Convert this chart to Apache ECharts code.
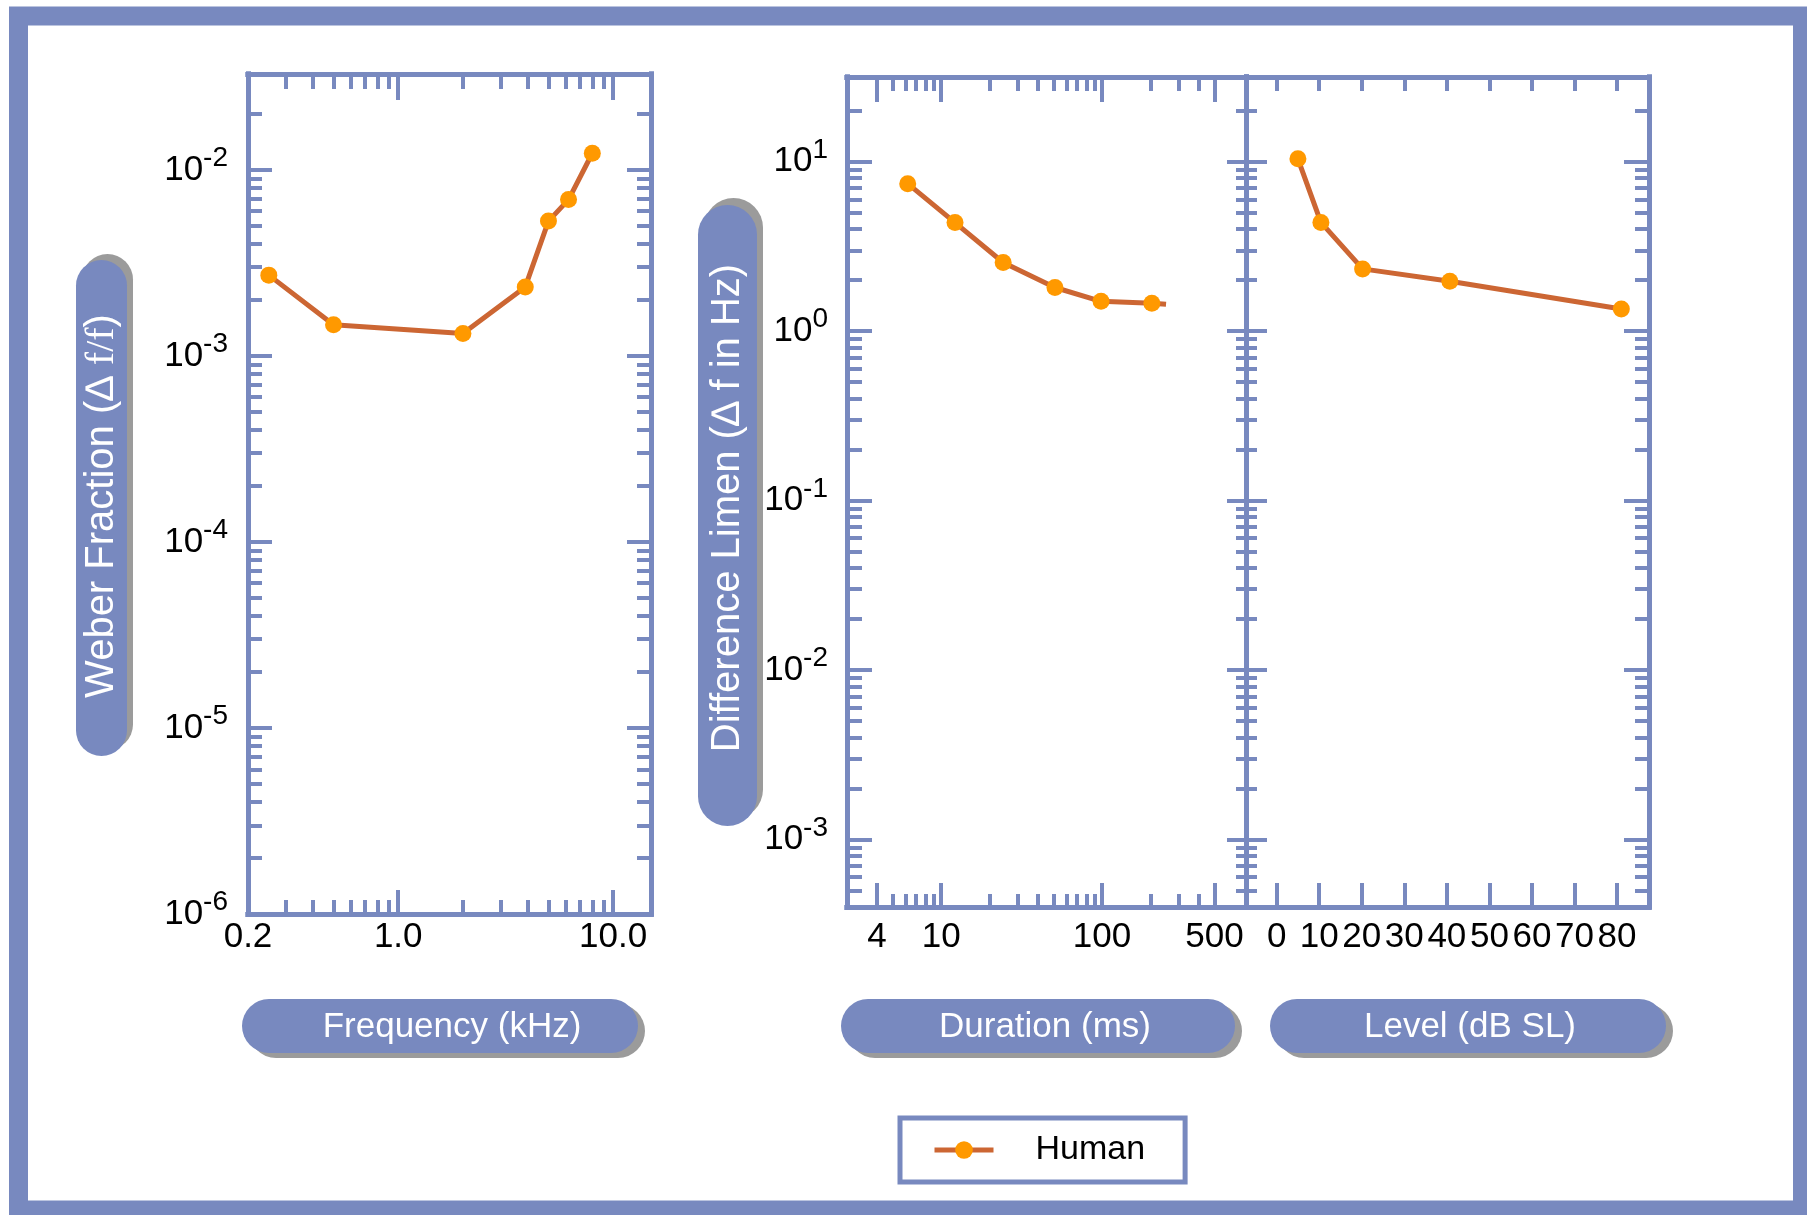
<!DOCTYPE html>
<html><head><meta charset="utf-8">
<script src="https://cdn.jsdelivr.net/npm/echarts@6/dist/echarts.min.js"></script>
<style>html,body{margin:0;padding:0;background:#fff;}#c{width:1807px;height:1215px;}</style>
</head><body><div id="c"></div>
<script>
// ---- data ----
const freqKHz       = [0.25, 0.5, 2, 3.9, 5, 6.2, 8];
const weberFraction = [0.00272, 0.00147, 0.00132, 0.00235, 0.00531, 0.00693, 0.0123];
const durationMs    = [6.2, 12.2, 24.3, 51, 98.6, 204, 250];
const durationDL    = [7.42, 4.37, 2.54, 1.81, 1.50, 1.46, 1.44];
const durationMarks = [true, true, true, true, true, true, false];
const levelDbSL     = [5, 10.4, 20.2, 40.7, 81];
const levelDL       = [10.4, 4.38, 2.33, 1.97, 1.35];
const seriesName    = 'Human';

// ---- tick values and labels ----
const freqTickValues = [0.2, 1, 10];
const freqTickLabels = ['0.2', '1.0', '10.0'];
const freqMajorTicks = [1, 10];
const freqMinorTicks = [0.3, 0.4, 0.5, 0.6, 0.7, 0.8, 0.9, 2, 3, 4, 5, 6, 7, 8, 9];
const weberExponents = [-6, -5, -4, -3, -2];
const durTickValues  = [4, 10, 100, 500];
const durTickLabels  = ['4', '10', '100', '500'];
const durMinorTicks  = [5, 6, 7, 8, 9, 20, 30, 40, 50, 60, 70, 80, 90, 200, 300, 400];
const dlExponents    = [-3, -2, -1, 0, 1];
const levelTicks     = [0, 10, 20, 30, 40, 50, 60, 70, 80];

const AX = '#7889bf';
const FONT = 'Liberation Sans';
const TICK_FS = 35;

function decadeVals(exps) { return exps.map(e => Math.pow(10, e)); }
function minorVals(exps, extra) {
  const out = [];
  exps.forEach(e => { for (let m = 2; m <= 9; m++) out.push(m * Math.pow(10, e)); });
  return out.concat(extra || []);
}
const weberMajor = decadeVals(weberExponents);
const weberMinor = minorVals([-6, -5, -4, -3], [0.02]);
const dlMajor = decadeVals(dlExponents);
const dlMinor = [5e-4, 6e-4, 7e-4, 8e-4, 9e-4].concat(minorVals([-3, -2, -1, 0], [20]));

const expRich = {
  b: {fontSize: TICK_FS, fontFamily: FONT, color: '#000'},
  s: {fontSize: 28, fontFamily: FONT, color: '#000', padding: [0, 0, 23, 0]}
};
function expFmt(v) { return '{b|10}{s|' + Math.round(Math.log10(v)) + '}'; }

function mkAxis(o) {
  const ax = {
    type: o.type || 'log', logBase: 10,
    gridIndex: o.grid, position: o.pos, min: o.min, max: o.max,
    axisLine: {show: true, onZero: false, lineStyle: {color: AX, width: 5, cap: 'square'}},
    axisTick: {show: true, inside: true, length: o.len, customValues: o.ticks,
               lineStyle: {color: AX, width: 4}},
    axisLabel: {show: false},
    splitLine: {show: false}, minorTick: {show: false}, minorSplitLine: {show: false},
    axisPointer: {show: false}, silent: true
  };
  if (o.labels) {
    ax.axisLabel = {show: true, customValues: o.labels, formatter: o.fmt, margin: o.margin,
                    color: '#000', fontFamily: FONT, fontSize: TICK_FS, rich: o.rich};
  }
  return ax;
}

const xAxes = [], yAxes = [];
// Panel 1: frequency
const P1 = {xmin: 0.2, xmax: 15, ymin: 1e-6, ymax: 0.0328};
xAxes.push(mkAxis({grid: 0, pos: 'bottom', min: P1.xmin, max: P1.xmax, len: 24, ticks: freqMajorTicks,
  labels: freqTickValues, margin: 6,
  fmt: v => { const i = freqTickValues.findIndex(t => Math.abs(Math.log10(t) - Math.log10(v)) < 1e-4); return i >= 0 ? freqTickLabels[i] : ''; }}));
xAxes.push(mkAxis({grid: 0, pos: 'bottom', min: P1.xmin, max: P1.xmax, len: 14, ticks: freqMinorTicks}));
xAxes.push(mkAxis({grid: 0, pos: 'top', min: P1.xmin, max: P1.xmax, len: 26, ticks: freqMajorTicks}));
xAxes.push(mkAxis({grid: 0, pos: 'top', min: P1.xmin, max: P1.xmax, len: 15, ticks: freqMinorTicks}));
yAxes.push(mkAxis({grid: 0, pos: 'left', min: P1.ymin, max: P1.ymax, len: 24, ticks: weberMajor,
  labels: weberMajor, fmt: expFmt, rich: expRich, margin: 20}));
yAxes.push(mkAxis({grid: 0, pos: 'left', min: P1.ymin, max: P1.ymax, len: 14, ticks: weberMinor}));
yAxes.push(mkAxis({grid: 0, pos: 'right', min: P1.ymin, max: P1.ymax, len: 24, ticks: weberMajor}));
yAxes.push(mkAxis({grid: 0, pos: 'right', min: P1.ymin, max: P1.ymax, len: 14, ticks: weberMinor}));

// Panel 2: duration
const P2 = {xmin: 2.6, xmax: 785, ymin: 4e-4, ymax: 31.6};
xAxes.push(mkAxis({grid: 1, pos: 'bottom', min: P2.xmin, max: P2.xmax, len: 24, ticks: durTickValues,
  labels: durTickValues, margin: 13,
  fmt: v => { const i = durTickValues.findIndex(t => Math.abs(Math.log10(t) - Math.log10(v)) < 1e-4); return i >= 0 ? durTickLabels[i] : ''; }}));
xAxes.push(mkAxis({grid: 1, pos: 'bottom', min: P2.xmin, max: P2.xmax, len: 13, ticks: durMinorTicks}));
xAxes.push(mkAxis({grid: 1, pos: 'top', min: P2.xmin, max: P2.xmax, len: 25, ticks: durTickValues}));
xAxes.push(mkAxis({grid: 1, pos: 'top', min: P2.xmin, max: P2.xmax, len: 14, ticks: durMinorTicks}));
yAxes.push(mkAxis({grid: 1, pos: 'left', min: P2.ymin, max: P2.ymax, len: 25, ticks: dlMajor,
  labels: dlMajor, fmt: expFmt, rich: expRich, margin: 19}));
yAxes.push(mkAxis({grid: 1, pos: 'left', min: P2.ymin, max: P2.ymax, len: 15, ticks: dlMinor}));
yAxes.push(mkAxis({grid: 1, pos: 'right', min: P2.ymin, max: P2.ymax, len: 19, ticks: dlMajor}));
yAxes.push(mkAxis({grid: 1, pos: 'right', min: P2.ymin, max: P2.ymax, len: 10, ticks: dlMinor}));

// Panel 3: level
const P3 = {xmin: -7.2, xmax: 87.5};
xAxes.push(mkAxis({type: 'value', grid: 2, pos: 'bottom', min: P3.xmin, max: P3.xmax, len: 24, ticks: levelTicks,
  labels: levelTicks, margin: 13, fmt: v => String(v)}));
xAxes.push(mkAxis({type: 'value', grid: 2, pos: 'top', min: P3.xmin, max: P3.xmax, len: 14, ticks: levelTicks}));
yAxes.push(mkAxis({grid: 2, pos: 'left', min: P2.ymin, max: P2.ymax, len: 21, ticks: dlMajor}));
yAxes.push(mkAxis({grid: 2, pos: 'left', min: P2.ymin, max: P2.ymax, len: 11, ticks: dlMinor}));
yAxes.push(mkAxis({grid: 2, pos: 'right', min: P2.ymin, max: P2.ymax, len: 25, ticks: dlMajor}));
yAxes.push(mkAxis({grid: 2, pos: 'right', min: P2.ymin, max: P2.ymax, len: 14, ticks: dlMinor}));

const lineStyle = {color: '#cc6633', width: 5};
const itemStyle = {color: '#ff9900'};
function mkSeries(xi, yi, xs, ys, marks) {
  return {
    name: seriesName, type: 'line', xAxisIndex: xi, yAxisIndex: yi,
    data: xs.map((x, i) => (marks && !marks[i]) ? {value: [x, ys[i]], symbol: 'none'} : [x, ys[i]]),
    symbol: 'circle', symbolSize: 17, showSymbol: true,
    lineStyle: lineStyle, itemStyle: itemStyle, emphasis: {disabled: true}, z: 5
  };
}

function pill(x, y, w, h, sx, sy) {
  return [
    {type: 'rect', silent: true, z: 1, shape: {x: x + sx, y: y + sy, width: w, height: h, r: Math.min(w, h) / 2}, style: {fill: '#9b9b9b'}},
    {type: 'rect', silent: true, z: 2, shape: {x: x, y: y, width: w, height: h, r: Math.min(w, h) / 2}, style: {fill: AX}}
  ];
}
function pillText(x, y, text, size, rot, rich) {
  return {type: 'text', silent: true, z: 3, x: x, y: y, rotation: rot || 0,
    style: {text: text, fill: '#fff', fontSize: size, fontFamily: FONT, align: 'center', verticalAlign: 'middle', rich: rich}};
}

const graphic = [].concat(
  [{type: 'rect', silent: true, z: 0, shape: {x: 18.5, y: 16, width: 1784, height: 1194},
    style: {fill: 'none', stroke: AX, lineWidth: 19}}],
  pill(76, 260, 51, 496, 6, -6),
  [pillText(102, 506, '{a|Weber Fraction (∆ }{b|f/f}{a|)}', 40, Math.PI / 2, {
    a: {fill: '#fff', fontSize: 40, fontFamily: FONT},
    b: {fill: '#fff', fontSize: 40, fontFamily: 'Liberation Serif'}})],
  pill(698, 205, 59, 621, 6, -7),
  [pillText(728, 508, 'Difference Limen (∆ f in Hz)', 40, Math.PI / 2)],
  pill(242, 999, 396, 54, 7, 5),
  [pillText(452, 1027, 'Frequency (kHz)', 35)],
  pill(841, 999, 394, 54, 7, 5),
  [pillText(1045, 1027, 'Duration (ms)', 35)],
  pill(1270, 999, 396, 54, 7, 5),
  [pillText(1470, 1027, 'Level (dB SL)', 35)]
);

const chart = echarts.init(document.getElementById('c'), null, {renderer: 'canvas'});
chart.setOption({
  animation: false,
  backgroundColor: '#ffffff',
  grid: [
    {left: 248, top: 74, width: 403, height: 840, outerBoundsMode: 'none', containLabel: false},
    {left: 847, top: 77, width: 399, height: 830, outerBoundsMode: 'none', containLabel: false},
    {left: 1246, top: 77, width: 403, height: 830, outerBoundsMode: 'none', containLabel: false}
  ],
  xAxis: xAxes,
  yAxis: yAxes,
  legend: {
    data: [seriesName], left: 900, top: 1118, padding: [15, 40, 15, 32],
    itemWidth: 59, itemHeight: 22, itemGap: 0,
    borderColor: AX, borderWidth: 5, backgroundColor: '#fff', selectedMode: false,
    lineStyle: {width: 5},
    formatter: n => '{t|' + n + '}',
    textStyle: {rich: {t: {fontSize: 34, fontFamily: FONT, color: '#000', padding: [0, 0, 0, 37]}}}
  },
  graphic: graphic,
  series: [
    mkSeries(0, 0, freqKHz, weberFraction),
    mkSeries(4, 4, durationMs, durationDL, durationMarks),
    mkSeries(8, 8, levelDbSL, levelDL)
  ]
});
</script></body></html>
